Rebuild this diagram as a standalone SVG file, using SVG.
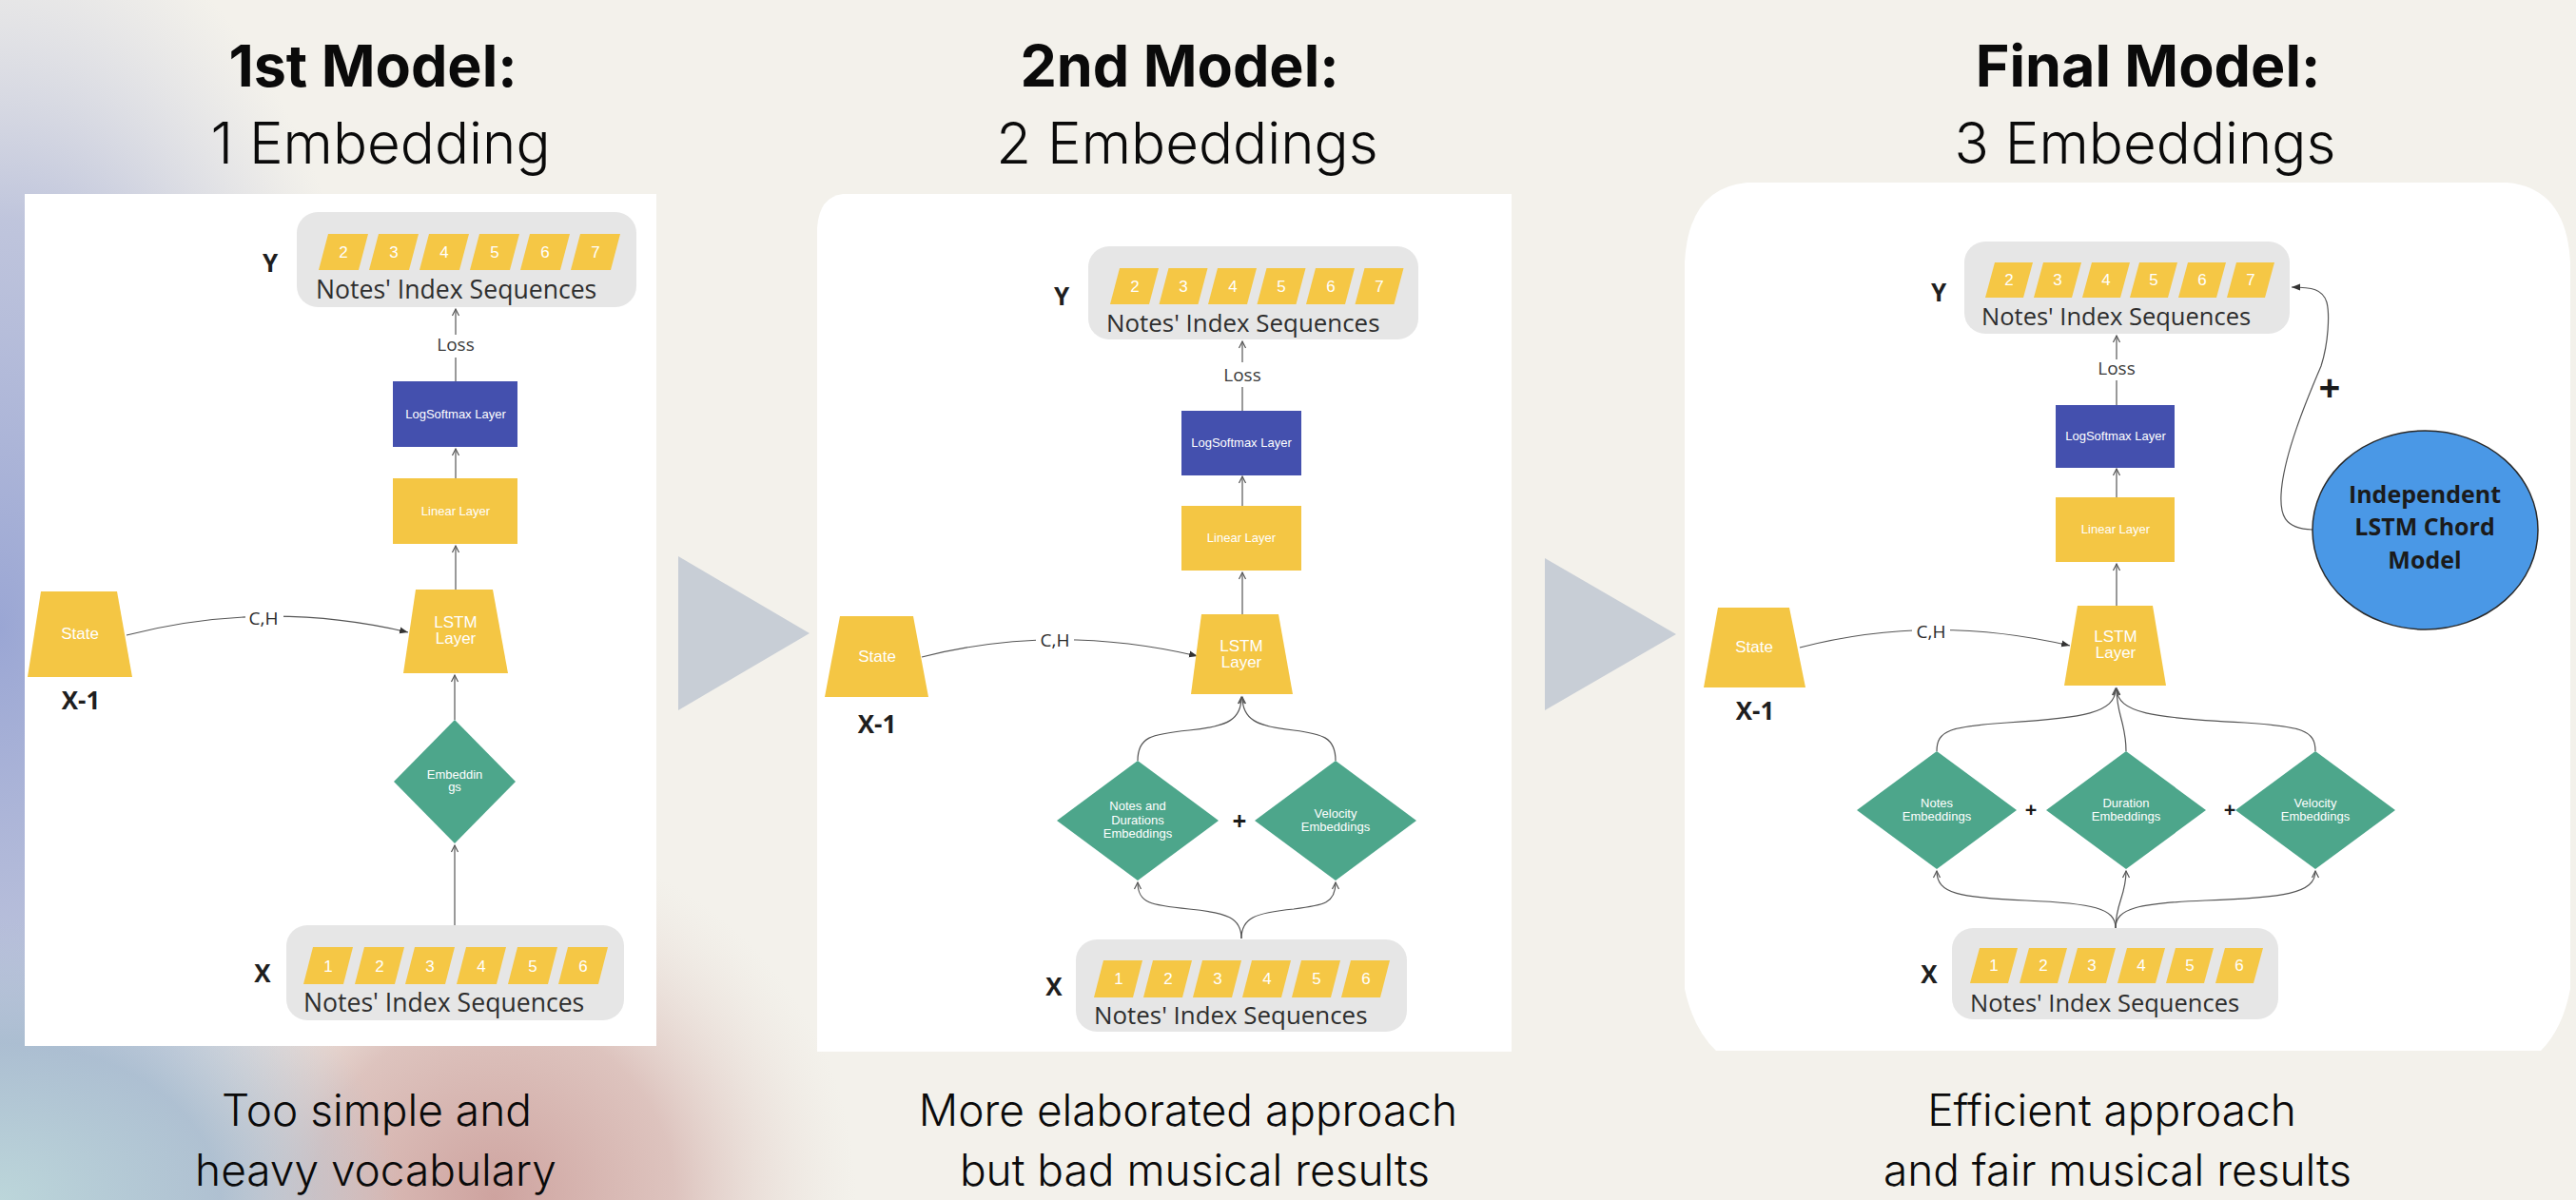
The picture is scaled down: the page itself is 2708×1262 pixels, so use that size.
<svg xmlns="http://www.w3.org/2000/svg" width="2708" height="1262" viewBox="0 0 2708 1262">
<defs>
<radialGradient id="gBlue"><stop offset="0" stop-color="#9AA6D4" stop-opacity="1"/><stop offset="0.55" stop-color="#A9B2D6" stop-opacity="0.7"/><stop offset="1" stop-color="#C9CCDC" stop-opacity="0"/></radialGradient>
<radialGradient id="gPink"><stop offset="0" stop-color="#CEA39F" stop-opacity="1"/><stop offset="0.5" stop-color="#D6B4AF" stop-opacity="0.75"/><stop offset="1" stop-color="#E8DDD6" stop-opacity="0"/></radialGradient>
<radialGradient id="gTeal"><stop offset="0" stop-color="#BCD6DA" stop-opacity="1"/><stop offset="0.55" stop-color="#A9BDD0" stop-opacity="0.9"/><stop offset="1" stop-color="#B0C2D4" stop-opacity="0"/></radialGradient>
<marker id="ao" markerWidth="10" markerHeight="10" refX="8" refY="5" orient="auto" markerUnits="userSpaceOnUse"><path d="M1,1.5 L8,5 L1,8.5" fill="none" stroke="#555" stroke-width="1.2"/></marker>
<marker id="af" markerWidth="10" markerHeight="10" refX="9" refY="5" orient="auto" markerUnits="userSpaceOnUse"><path d="M0,1.5 L9,5 L0,8.5 Z" fill="#333"/></marker>
<style>
.bg{fill:#F3F1EB}
.panel{fill:#FFFFFF}
.tri{fill:#C8CED6}
.title{font-family:Inter,"Liberation Sans",sans-serif;font-weight:700;font-size:61px;fill:#0a0a0a;text-anchor:middle}
.sub{font-family:Inter,"Liberation Sans",sans-serif;font-weight:300;font-size:60px;fill:#0a0a0a;text-anchor:middle}
.cap{font-family:Inter,"Liberation Sans",sans-serif;font-weight:300;font-size:46px;fill:#0a0a0a;text-anchor:middle}
.seqbox{fill:#E6E6E6}
.para{fill:#F5C745}
.num{font-family:"Liberation Sans",Arial,sans-serif;font-size:17px;fill:#FFFFFF;text-anchor:middle}
.seq{font-family:"Open Sans","Liberation Sans",sans-serif;fill:#2E2E2E}
.lbl{font-family:"Open Sans","Liberation Sans",sans-serif;font-weight:700;font-size:26px;fill:#1E1E1E;text-anchor:middle}
.yel{fill:#F4C644}
.blue{fill:#4450AE}
.teal{fill:#4DA68B}
.wt{font-family:"Liberation Sans",Arial,sans-serif;font-size:13px;fill:#FFFFFF;text-anchor:middle}
.wt2{font-family:"Liberation Sans",Arial,sans-serif;font-size:17px;fill:#FFFFFF;text-anchor:middle}
.loss{font-family:"Open Sans","Liberation Sans",sans-serif;font-size:19px;fill:#3A3A3A;text-anchor:middle}
.ch{font-family:"Open Sans","Liberation Sans",sans-serif;font-size:19px;fill:#2A2A2A;text-anchor:middle}
.plus{font-family:"Open Sans","Liberation Sans",sans-serif;font-weight:700;fill:#1A1A1A;text-anchor:middle}
.conn{fill:none;stroke:#555;stroke-width:1.2}
.chord{fill:#4A98E6;stroke:#2A2A2A;stroke-width:1.5}
.chtxt{font-family:"Open Sans","Liberation Sans",sans-serif;font-weight:700;font-size:25px;fill:#1B1B1B;text-anchor:middle}
</style>
</defs>

<g id="background">
<rect class="bg" x="0" y="0" width="2708" height="1262"/>
<rect x="-420" y="-120" width="840" height="1560" fill="url(#gBlue)"/>
<rect x="140" y="880" width="760" height="760" fill="url(#gPink)"/>
<rect x="-420" y="962" width="840" height="600" fill="url(#gTeal)"/>
</g>

<g id="titles">
<text class="title" x="392" y="91">1st Model:</text>
<text class="sub" x="400" y="172">1 Embedding</text>
<text class="title" x="1240" y="91">2nd Model:</text>
<text class="sub" x="1248" y="172">2 Embeddings</text>
<text class="title" x="2258" y="91">Final Model:</text>
<text class="sub" x="2255" y="172">3 Embeddings</text>
</g>

<g id="captions">
<text class="cap" x="396" y="1184">Too simple and</text>
<text class="cap" x="395" y="1247">heavy vocabulary</text>
<text class="cap" x="1249" y="1184">More elaborated approach</text>
<text class="cap" x="1256" y="1247">but bad musical results</text>
<text class="cap" x="2220" y="1184">Efficient approach</text>
<text class="cap" x="2226" y="1247">and fair musical results</text>
</g>

<g id="arrows-between">
<polygon class="tri" points="713,585 851,666 713,747"/>
<polygon class="tri" points="1624,587 1762,667 1624,747"/>
</g>

<!-- ================= PANEL 1 ================= -->
<g id="panel1">
<rect class="panel" x="26" y="204" width="664" height="896"/>

<g id="p1-connectors">
<line class="conn" x1="479" y1="352" x2="479" y2="325" marker-end="url(#ao)"/>
<line class="conn" x1="479" y1="401" x2="479" y2="376"/>
<line class="conn" x1="479" y1="503" x2="479" y2="472" marker-end="url(#ao)"/>
<line class="conn" x1="479" y1="620" x2="479" y2="574" marker-end="url(#ao)"/>
<line class="conn" x1="478" y1="757" x2="478" y2="710" marker-end="url(#ao)"/>
<line class="conn" x1="478" y1="973" x2="478" y2="889" marker-end="url(#ao)"/>
<path class="conn" d="M133,668 Q280,630 429,665" marker-end="url(#af)"/>
<rect x="258" y="636" width="40" height="26" fill="#FFFFFF"/>
<text class="ch" x="277" y="657">C,H</text>
<text class="loss" x="479" y="369">Loss</text>
</g>

<g id="p1-y">
<text class="lbl" x="284" y="286">Y</text>
<rect class="seqbox" x="312" y="223" width="357" height="100" rx="22"/>
<polygon class="para" points="345,246 387,246 377,284 335,284"/>
<polygon class="para" points="398,246 440,246 430,284 388,284"/>
<polygon class="para" points="451,246 493,246 483,284 441,284"/>
<polygon class="para" points="504,246 546,246 536,284 494,284"/>
<polygon class="para" points="557,246 599,246 589,284 547,284"/>
<polygon class="para" points="610,246 652,246 642,284 600,284"/>
<text class="num" x="361" y="271">2</text><text class="num" x="414" y="271">3</text><text class="num" x="467" y="271">4</text><text class="num" x="520" y="271">5</text><text class="num" x="573" y="271">6</text><text class="num" x="626" y="271">7</text>
<text class="seq" x="332" y="314" font-size="26.6">Notes' Index Sequences</text>
</g>
<g id="p1-logsoftmax"><rect class="blue" x="413" y="401" width="131" height="69"/><text class="wt" x="479" y="440">LogSoftmax Layer</text></g>
<g id="p1-linear"><rect class="yel" x="413" y="503" width="131" height="69"/><text class="wt" x="479" y="542">Linear Layer</text></g>
<g id="p1-lstm"><polygon class="yel" points="437,620 518,620 534,708 424,708"/><text class="wt2" x="479" y="660">LSTM</text><text class="wt2" x="479" y="677">Layer</text></g>
<g id="p1-state"><polygon class="yel" points="43,622 123,622 139,712 29,712"/><text class="wt2" x="84" y="672">State</text><text class="lbl" x="85" y="746">X-1</text></g>
<g id="p1-emb"><polygon class="teal" points="478,757 542,822 478,887 414,822"/><text class="wt" x="478" y="819">Embeddin</text><text class="wt" x="478" y="832">gs</text></g>
<g id="p1-x">
<text class="lbl" x="276" y="1033">X</text>
<rect class="seqbox" x="301" y="973" width="355" height="100" rx="22"/>
<polygon class="para" points="329,996 371,996 361,1035 319,1035"/>
<polygon class="para" points="383,996 425,996 415,1035 373,1035"/>
<polygon class="para" points="436,996 478,996 468,1035 426,1035"/>
<polygon class="para" points="490,996 532,996 522,1035 480,1035"/>
<polygon class="para" points="544,996 586,996 576,1035 534,1035"/>
<polygon class="para" points="597,996 639,996 629,1035 587,1035"/>
<text class="num" x="345" y="1022">1</text><text class="num" x="399" y="1022">2</text><text class="num" x="452" y="1022">3</text><text class="num" x="506" y="1022">4</text><text class="num" x="560" y="1022">5</text><text class="num" x="613" y="1022">6</text>
<text class="seq" x="319" y="1064" font-size="26.6">Notes' Index Sequences</text>
</g>
</g>

<!-- ================= PANEL 2 ================= -->
<g id="panel2">
<path class="panel" d="M859,240 Q861,207 886,204 L1589,204 L1589,1106 L859,1106 Z"/>

<g id="p2-connectors">
<line class="conn" x1="1306" y1="381" x2="1306" y2="359" marker-end="url(#ao)"/>
<line class="conn" x1="1306" y1="432" x2="1306" y2="407"/>
<line class="conn" x1="1306" y1="532" x2="1306" y2="501" marker-end="url(#ao)"/>
<line class="conn" x1="1306" y1="646" x2="1306" y2="602" marker-end="url(#ao)"/>
<path class="conn" d="M1196,800 C1196,775 1210,772 1250,768 C1292,764 1305,756 1305,733" marker-end="url(#ao)"/>
<path class="conn" d="M1404,800 C1404,775 1390,772 1360,768 C1320,764 1306,756 1306,733" marker-end="url(#ao)"/>
<path class="conn" d="M1305,987 C1305,965 1290,960 1250,956 C1210,952 1196,950 1196,928" marker-end="url(#ao)"/>
<path class="conn" d="M1305,987 C1305,965 1320,960 1360,956 C1392,952 1404,950 1404,928" marker-end="url(#ao)"/>
<path class="conn" d="M969,691 Q1110,655 1259,690" marker-end="url(#af)"/>
<rect x="1089" y="659" width="40" height="26" fill="#FFFFFF"/>
<text class="ch" x="1109" y="680">C,H</text>
<text class="loss" x="1306" y="401">Loss</text>
</g>

<g id="p2-y">
<text class="lbl" x="1116" y="321">Y</text>
<rect class="seqbox" x="1144" y="259" width="347" height="98" rx="22"/>
<polygon class="para" points="1177,282 1218,282 1208,320 1167,320"/>
<polygon class="para" points="1228.5,282 1269.5,282 1259.5,320 1218.5,320"/>
<polygon class="para" points="1280,282 1321,282 1311,320 1270,320"/>
<polygon class="para" points="1331.5,282 1372.5,282 1362.5,320 1321.5,320"/>
<polygon class="para" points="1383,282 1424,282 1414,320 1373,320"/>
<polygon class="para" points="1434.5,282 1475.5,282 1465.5,320 1424.5,320"/>
<text class="num" x="1193" y="307">2</text><text class="num" x="1244" y="307">3</text><text class="num" x="1296" y="307">4</text><text class="num" x="1347" y="307">5</text><text class="num" x="1399" y="307">6</text><text class="num" x="1450" y="307">7</text>
<text class="seq" x="1163" y="349" font-size="25.9">Notes' Index Sequences</text>
</g>
<g id="p2-logsoftmax"><rect class="blue" x="1242" y="432" width="126" height="68"/><text class="wt" x="1305" y="470">LogSoftmax Layer</text></g>
<g id="p2-linear"><rect class="yel" x="1242" y="532" width="126" height="68"/><text class="wt" x="1305" y="570">Linear Layer</text></g>
<g id="p2-lstm"><polygon class="yel" points="1263,646 1344,646 1359,730 1252,730"/><text class="wt2" x="1305" y="685">LSTM</text><text class="wt2" x="1305" y="702">Layer</text></g>
<g id="p2-state"><polygon class="yel" points="883,648 960,648 976,733 867,733"/><text class="wt2" x="922" y="696">State</text><text class="lbl" x="922" y="771">X-1</text></g>
<g id="p2-emb1"><polygon class="teal" points="1196,800 1281,863 1196,926 1111,863"/><text class="wt" x="1196" y="852">Notes and</text><text class="wt" x="1196" y="867">Durations</text><text class="wt" x="1196" y="881">Embeddings</text></g>
<text class="plus" x="1303" y="873" font-size="26">+</text>
<g id="p2-emb2"><polygon class="teal" points="1404,800 1489,863 1404,926 1319,863"/><text class="wt" x="1404" y="860">Velocity</text><text class="wt" x="1404" y="874">Embeddings</text></g>
<g id="p2-x">
<text class="lbl" x="1108" y="1047">X</text>
<rect class="seqbox" x="1131" y="988" width="348" height="97" rx="22"/>
<polygon class="para" points="1160,1010 1201,1010 1191,1049 1150,1049"/>
<polygon class="para" points="1212,1010 1253,1010 1243,1049 1202,1049"/>
<polygon class="para" points="1264,1010 1305,1010 1295,1049 1254,1049"/>
<polygon class="para" points="1316,1010 1357,1010 1347,1049 1306,1049"/>
<polygon class="para" points="1368,1010 1409,1010 1399,1049 1358,1049"/>
<polygon class="para" points="1420,1010 1461,1010 1451,1049 1410,1049"/>
<text class="num" x="1176" y="1035">1</text><text class="num" x="1228" y="1035">2</text><text class="num" x="1280" y="1035">3</text><text class="num" x="1332" y="1035">4</text><text class="num" x="1384" y="1035">5</text><text class="num" x="1436" y="1035">6</text>
<text class="seq" x="1150" y="1077" font-size="25.9">Notes' Index Sequences</text>
</g>
</g>

<!-- ================= PANEL 3 ================= -->
<g id="panel3">
<path class="panel" d="M1836,192 L2636,192 Q2698,198 2702,276 L2702,1040 Q2694,1082 2671,1105 L1804,1105 Q1780,1082 1771,1040 L1771,276 Q1775,198 1836,192 Z"/>

<g id="p3-connectors">
<line class="conn" x1="2225" y1="378" x2="2225" y2="353" marker-end="url(#ao)"/>
<line class="conn" x1="2225" y1="426" x2="2225" y2="400"/>
<line class="conn" x1="2225" y1="523" x2="2225" y2="493" marker-end="url(#ao)"/>
<line class="conn" x1="2225" y1="637" x2="2225" y2="593" marker-end="url(#ao)"/>
<path class="conn" d="M2036,790 C2036,768 2050,764 2110,760 C2190,755 2224,750 2224,724" marker-end="url(#ao)"/>
<path class="conn" d="M2235,790 C2235,760 2225,752 2225,724" marker-end="url(#ao)"/>
<path class="conn" d="M2434,790 C2434,768 2420,764 2360,760 C2262,755 2226,750 2225,724" marker-end="url(#ao)"/>
<path class="conn" d="M2224,976 C2224,955 2200,950 2130,947 C2060,944 2036,940 2036,916" marker-end="url(#ao)"/>
<path class="conn" d="M2224,976 C2224,950 2235,942 2235,916" marker-end="url(#ao)"/>
<path class="conn" d="M2224,976 C2224,955 2248,950 2318,947 C2400,944 2434,940 2434,916" marker-end="url(#ao)"/>
<path class="conn" d="M1892,681 Q2030,645 2176,679" marker-end="url(#af)"/>
<rect x="2010" y="650" width="40" height="26" fill="#FFFFFF"/>
<text class="ch" x="2030" y="671">C,H</text>
<text class="loss" x="2225" y="394">Loss</text>
<path class="conn" d="M2431,557 C2400,556 2397,540 2398,520 C2400,480 2425,420 2440,385 C2448,360 2449,330 2446,318 C2442,304 2430,302 2409,302" marker-end="url(#af)"/>
<text class="plus" x="2449" y="422" font-size="40">+</text>
</g>

<g id="p3-y">
<text class="lbl" x="2038" y="317">Y</text>
<rect class="seqbox" x="2065" y="254" width="342" height="97" rx="22"/>
<polygon class="para" points="2097,276 2137,276 2127,313 2087,313"/>
<polygon class="para" points="2148,276 2188,276 2178,313 2138,313"/>
<polygon class="para" points="2199,276 2239,276 2229,313 2189,313"/>
<polygon class="para" points="2249,276 2289,276 2279,313 2239,313"/>
<polygon class="para" points="2300,276 2340,276 2330,313 2290,313"/>
<polygon class="para" points="2351,276 2391,276 2381,313 2341,313"/>
<text class="num" x="2112" y="300">2</text><text class="num" x="2163" y="300">3</text><text class="num" x="2214" y="300">4</text><text class="num" x="2264" y="300">5</text><text class="num" x="2315" y="300">6</text><text class="num" x="2366" y="300">7</text>
<text class="seq" x="2083" y="342" font-size="25.5">Notes' Index Sequences</text>
</g>
<g id="p3-logsoftmax"><rect class="blue" x="2161" y="426" width="125" height="66"/><text class="wt" x="2224" y="463">LogSoftmax Layer</text></g>
<g id="p3-linear"><rect class="yel" x="2161" y="523" width="125" height="68"/><text class="wt" x="2224" y="561">Linear Layer</text></g>
<g id="p3-lstm"><polygon class="yel" points="2184,637 2263,637 2277,721 2170,721"/><text class="wt2" x="2224" y="675">LSTM</text><text class="wt2" x="2224" y="692">Layer</text></g>
<g id="p3-state"><polygon class="yel" points="1806,639 1881,639 1898,723 1791,723"/><text class="wt2" x="1844" y="686">State</text><text class="lbl" x="1845" y="757">X-1</text></g>
<g id="p3-emb1"><polygon class="teal" points="2036,790 2120,852 2036,914 1952,852"/><text class="wt" x="2036" y="849">Notes</text><text class="wt" x="2036" y="863">Embeddings</text></g>
<text class="plus" x="2135" y="859" font-size="22">+</text>
<g id="p3-emb2"><polygon class="teal" points="2235,790 2319,852 2235,914 2151,852"/><text class="wt" x="2235" y="849">Duration</text><text class="wt" x="2235" y="863">Embeddings</text></g>
<text class="plus" x="2344" y="859" font-size="22">+</text>
<g id="p3-emb3"><polygon class="teal" points="2434,790 2518,852 2434,914 2350,852"/><text class="wt" x="2434" y="849">Velocity</text><text class="wt" x="2434" y="863">Embeddings</text></g>
<g id="p3-chord"><ellipse class="chord" cx="2549.5" cy="557.5" rx="118.5" ry="104.5"/><text class="chtxt" x="2549" y="529">Independent</text><text class="chtxt" x="2549" y="563">LSTM Chord</text><text class="chtxt" x="2549" y="598">Model</text></g>
<g id="p3-x">
<text class="lbl" x="2028" y="1034">X</text>
<rect class="seqbox" x="2052" y="976" width="343" height="96" rx="22"/>
<polygon class="para" points="2081,997 2121,997 2111,1034 2071,1034"/>
<polygon class="para" points="2133,997 2173,997 2163,1034 2123,1034"/>
<polygon class="para" points="2184,997 2224,997 2214,1034 2174,1034"/>
<polygon class="para" points="2236,997 2276,997 2266,1034 2226,1034"/>
<polygon class="para" points="2287,997 2327,997 2317,1034 2277,1034"/>
<polygon class="para" points="2339,997 2379,997 2369,1034 2329,1034"/>
<text class="num" x="2096" y="1021">1</text><text class="num" x="2148" y="1021">2</text><text class="num" x="2199" y="1021">3</text><text class="num" x="2251" y="1021">4</text><text class="num" x="2302" y="1021">5</text><text class="num" x="2354" y="1021">6</text>
<text class="seq" x="2071" y="1064" font-size="25.5">Notes' Index Sequences</text>
</g>
</g>
</svg>
